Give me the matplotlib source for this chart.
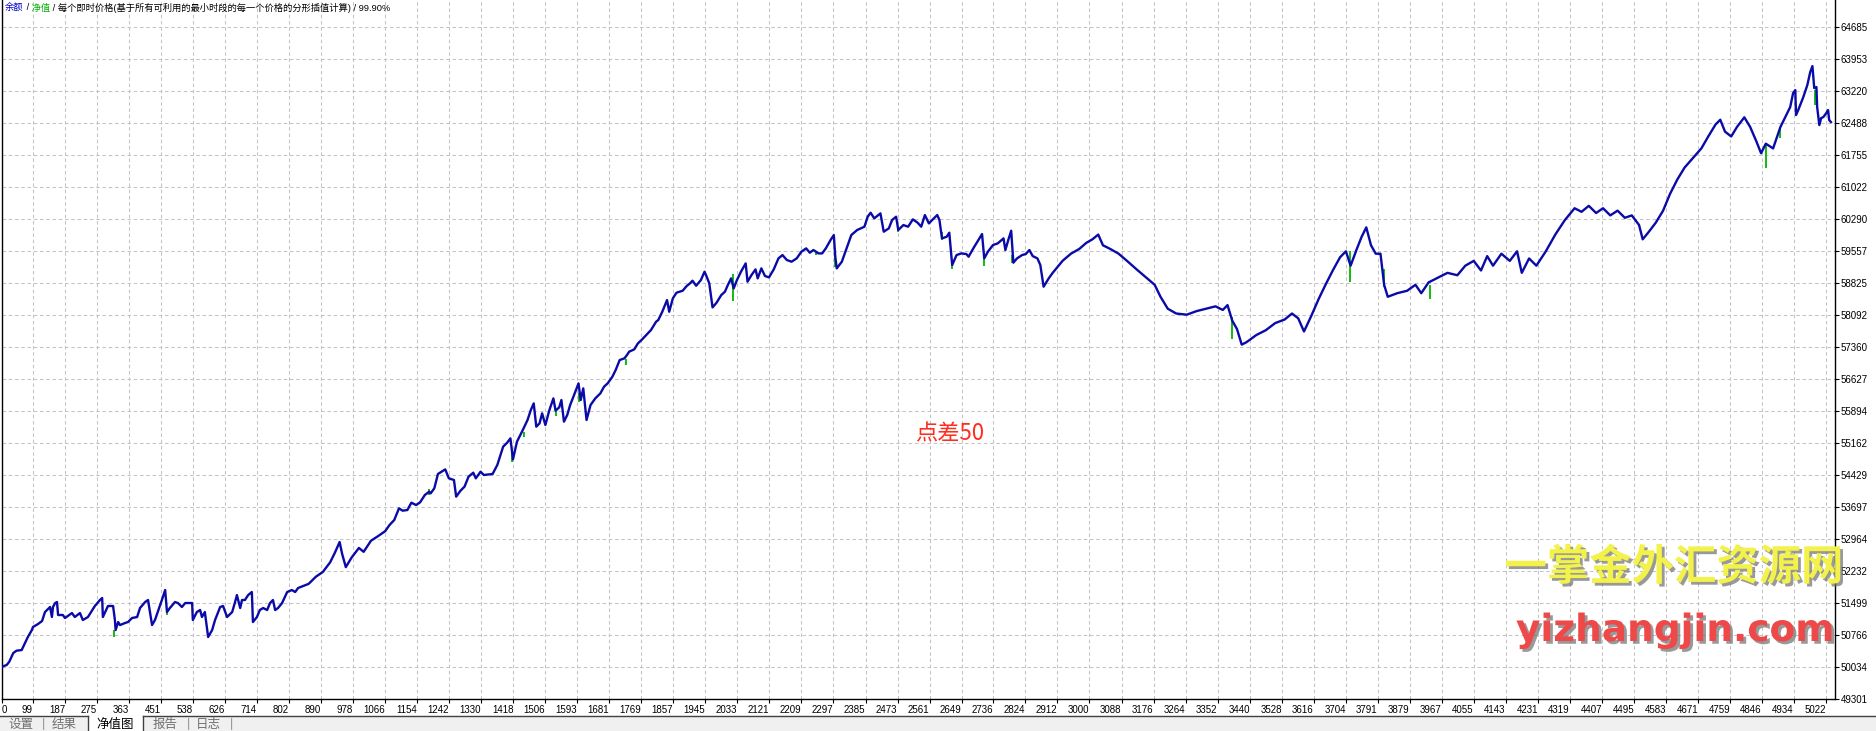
import matplotlib
matplotlib.use('Agg')
import matplotlib.pyplot as plt
import matplotlib.patheffects as pe
from matplotlib.patches import Rectangle
from matplotlib.lines import Line2D

plt.rcParams['font.family'] = ['Liberation Sans', 'Noto Sans CJK SC', 'DejaVu Sans']

# balance curve (bar number, balance)
bar_index = [
    14, 27, 34, 45, 54, 68, 72, 85, 96, 99, 113, 124, 132, 146, 151, 154, 160, 165, 168, 181,
    187, 206, 214, 228, 236, 250, 269, 283, 289, 291, 300, 305, 319, 324, 326, 333, 338, 352, 360, 371,
    385, 393, 407, 415, 426, 434, 453, 462, 467, 475, 489, 497, 508, 517, 536, 538, 549, 558, 563, 571,
    580, 591, 599, 613, 621, 632, 646, 654, 659, 668, 673, 681, 690, 700, 703, 714, 722, 731, 742, 750,
    758, 764, 772, 783, 797, 810, 819, 827, 856, 876, 895, 915, 928, 941, 948, 958, 974, 994, 1007, 1027,
    1047, 1066, 1078, 1091, 1104, 1114, 1127, 1138, 1151, 1162, 1175, 1187, 1191, 1201, 1211, 1231, 1241, 1255, 1261, 1273,
    1284, 1295, 1308, 1315, 1328, 1337, 1361, 1374, 1390, 1401, 1410, 1417, 1428, 1444, 1457, 1466, 1474, 1481, 1490, 1497,
    1506, 1517, 1528, 1534, 1544, 1550, 1557, 1566, 1574, 1583, 1597, 1603, 1610, 1619, 1630, 1643, 1657, 1667, 1677, 1690,
    1699, 1710, 1723, 1730, 1736, 1750, 1760, 1770, 1783, 1796, 1810, 1816, 1827, 1840, 1846, 1856, 1866, 1883, 1894, 1903,
    1910, 1920, 1933, 1943, 1949, 1956, 1965, 1976, 1989, 1999, 2007, 2016, 2023, 2032, 2043, 2056, 2061, 2072, 2083, 2089,
    2099, 2109, 2120, 2133, 2146, 2157, 2169, 2182, 2196, 2209, 2222, 2232, 2242, 2256, 2266, 2276, 2289, 2298, 2302, 2306,
    2320, 2333, 2346, 2362, 2382, 2391, 2399, 2409, 2426, 2435, 2449, 2458, 2469, 2475, 2489, 2502, 2515, 2528, 2538, 2548,
    2559, 2568, 2582, 2588, 2595, 2608, 2615, 2623, 2635, 2648, 2662, 2668, 2681, 2695, 2705, 2711, 2721, 2735, 2748, 2759,
    2764, 2769, 2777, 2785, 2791, 2801, 2815, 2825, 2835, 2844, 2857, 2865, 2874, 2888, 2899, 2926, 2949, 2972, 2991, 3008,
    3024, 3037, 3057, 3080, 3103, 3129, 3156, 3179, 3195, 3215, 3238, 3267, 3294, 3320, 3346, 3366, 3379, 3392, 3405, 3418,
    3431, 3458, 3484, 3510, 3536, 3556, 3573, 3589, 3609, 3629, 3648, 3668, 3688, 3704, 3717, 3734, 3747, 3760, 3773, 3786,
    3799, 3809, 3819, 3845, 3872, 3895, 3911, 3931, 3957, 3983, 4010, 4032, 4055, 4075, 4092, 4108, 4131, 4154, 4174, 4187,
    4207, 4227, 4253, 4279, 4305, 4332, 4351, 4371, 4391, 4410, 4430, 4450, 4470, 4489, 4509, 4519, 4535, 4555, 4575, 4594,
    4614, 4634, 4657, 4680, 4699, 4719, 4732, 4745, 4762, 4778, 4798, 4814, 4831, 4844, 4857, 4877, 4897, 4916, 4924, 4932,
    4938, 4940, 4946, 4960, 4971, 4979, 4985, 4990, 4996, 4998, 5004, 5009, 5015, 5023, 5028, 5031, 5036,
]
balance = [
    50040, 50080, 50155, 50354, 50407, 50422, 50491, 50720, 50880, 50949, 51018, 51086, 51292, 51407, 51178, 51407, 51498, 51521, 51224, 51224,
    51155, 51269, 51178, 51269, 51109, 51178, 51430, 51567, 51613, 51178, 51338, 51430, 51430, 51109, 50880, 51063, 50994, 51041, 51063, 51155,
    51178, 51384, 51521, 51567, 50994, 51109, 51567, 51796, 51292, 51384, 51521, 51498, 51407, 51498, 51498, 51109, 51292, 51338, 51178, 51292,
    50720, 50880, 51109, 51407, 51430, 51178, 51292, 51521, 51681, 51384, 51567, 51567, 51681, 51750, 51063, 51178, 51338, 51384, 51338, 51498,
    51567, 51338, 51384, 51498, 51750, 51796, 51750, 51842, 51937, 52101, 52210, 52430, 52649, 52895, 52621, 52320, 52540, 52759, 52670, 52923,
    53032, 53142, 53284, 53398, 53666, 53612, 53627, 53795, 53742, 53803, 53971, 54047, 54009, 54124, 54452, 54558, 54353, 54314, 53933, 54070,
    54162, 54391, 54482, 54353, 54505, 54429, 54452, 54658, 55077, 55169, 55268, 54787, 55192, 55459, 55688, 55916, 56069, 55535, 55611, 55840,
    55573, 55916, 56183, 55901, 55978, 56145, 55650, 55802, 56031, 56222, 56527, 56145, 56412, 55688, 56031, 56183, 56298, 56450, 56527, 56680,
    56832, 57061, 57099, 57175, 57252, 57305, 57442, 57519, 57633, 57748, 57938, 57977, 58167, 58434, 58167, 58473, 58602, 58648, 58755, 58816,
    58877, 58762, 58892, 59083, 58968, 58816, 58266, 58373, 58549, 58625, 58778, 58930, 58701, 58892, 59083, 59273, 58854, 59007, 59136, 58930,
    59159, 58984, 58953, 59136, 59388, 59464, 59350, 59312, 59388, 59541, 59617, 59518, 59579, 59502, 59502, 59617, 59808, 59922, 59426, 59159,
    59312, 59617, 59922, 60037, 60113, 60342, 60433, 60304, 60418, 59999, 60075, 60266, 60342, 60037, 60151, 60113, 60281, 60205, 60113, 60380,
    60189, 60266, 60380, 60266, 59846, 59884, 59976, 59236, 59464, 59502, 59487, 59426, 59617, 59808, 59945, 59388, 59541, 59693, 59731, 59808,
    59846, 59579, 59808, 60021, 59289, 59388, 59464, 59487, 59579, 59441, 59388, 59236, 58740, 58930, 59057, 59331, 59495, 59604, 59742, 59824,
    59933, 59687, 59604, 59495, 59331, 59139, 58947, 58783, 58509, 58235, 58126, 58099, 58181, 58236, 58290, 58208, 58318, 57962, 57770, 57414,
    57469, 57633, 57743, 57907, 57989, 58126, 58017, 57715, 58071, 58454, 58783, 59111, 59413, 59550, 59221, 59604, 59878, 60098, 59687, 59495,
    59495, 58783, 58509, 58591, 58646, 58783, 58591, 58838, 58947, 59057, 59002, 59221, 59331, 59111, 59440, 59221, 59495, 59331, 59550, 59057,
    59386, 59221, 59550, 59933, 60262, 60536, 60454, 60591, 60426, 60536, 60372, 60481, 60317, 60372, 60152, 59824, 59988, 60207, 60481, 60864,
    61193, 61467, 61686, 61905, 62179, 62453, 62562, 62289, 62179, 62398, 62617, 62398, 62069, 61795, 62014, 61905, 62394, 62714, 62852, 63172,
    63241, 62669, 62783, 63081, 63355, 63653, 63790, 63287, 63310, 62852, 62440, 62600, 62623, 62714, 62783, 62554, 62508,
]

# equity dips below balance (green)
spike_bar = [322, 467, 1187, 1414, 1446, 1534, 1599, 1726, 2020, 2249, 2302, 2473, 2595, 2623, 2711, 2788,
             3392, 3714, 3809, 3934, 4857, 4897, 4993]
spike_hi = [50880, 51338, 54101, 55001, 55421, 55901, 56298, 57076, 59029, 59541, 59464, 60113, 59999, 59350, 59411, 59464,
            58044, 59550, 59139, 58783, 62014, 62371, 63241]
spike_lo = [50720, 51224, 53971, 54734, 55306, 55779, 56107, 56946, 58419, 59464, 59182, 59999, 59808, 59136, 59220, 59274,
            57551, 58838, 58728, 58454, 61467, 62142, 62898]

x_ticks = [0, 99, 187, 275, 363, 451, 538, 626, 714, 802, 890, 978, 1066, 1154, 1242, 1330, 1418, 1506, 1593,
           1681, 1769, 1857, 1945, 2033, 2121, 2209, 2297, 2385, 2473, 2561, 2649, 2736, 2824, 2912, 3000, 3088,
           3176, 3264, 3352, 3440, 3528, 3616, 3704, 3791, 3879, 3967, 4055, 4143, 4231, 4319, 4407, 4495, 4583,
           4671, 4759, 4846, 4934, 5022]
y_ticks = [49301, 50034, 50766, 51499, 52232, 52964, 53697, 54429, 55162, 55894, 56627, 57360, 58092, 58825,
           59557, 60290, 61022, 61755, 62488, 63220, 63953, 64685]
x_range = (14, 5047)
y_range = (49301, 65303)

tab_labels = ['设置', '结果', '净值图', '报告', '日志']

W, H = 1876, 731
fig = plt.figure(figsize=(W / 100, H / 100), dpi=100)
ax = fig.add_axes([2 / W, 32 / H, 1833 / W, 699 / H])

ax.vlines(spike_bar, spike_lo, spike_hi, color='#00b400', lw=1.3, zorder=2)
ax.plot(bar_index, balance, color='#0a0aa8', lw=1.7, zorder=3)

ax.set_xlim(*x_range)
ax.set_ylim(*y_range)
ax.set_xticks([max(v, x_range[0]) for v in x_ticks])
ax.set_xticklabels([str(v) for v in x_ticks])
ax.set_yticks(y_ticks)
ax.set_yticklabels([str(v) for v in y_ticks])
ax.yaxis.tick_right()
ax.tick_params(axis='both', direction='out', length=3, width=0.8, labelsize=7, colors='black', pad=1)
for lbl in ax.get_xticklabels():
    lbl.set_ha('right')
ax.get_xticklabels()[0].set_ha('left')

ax.grid(True, color='#c4c4c4', linestyle=(0, (3.4, 2.6)), linewidth=0.75)
ax.spines['top'].set_visible(False)
for s in ['left', 'right', 'bottom']:
    ax.spines[s].set_linewidth(1.0)
    ax.spines[s].set_color('black')

# header line: balance / equity / model
prev = ax.annotate('余额', xy=(5, H - 8), xycoords='figure pixels', va='center', ha='left',
                   fontsize=6.7, color='#0000c8')
for txt, col in [(' /', 'black'), (' 净值', '#00b000'),
                 (' / 每个即时价格(基于所有可利用的最小时段的每一个价格的分形插值计算) / 99.90%', 'black')]:
    prev = ax.annotate(txt, xy=(1, 0.5), xycoords=prev, va='center', ha='left', fontsize=6.7, color=col)

fig.text(950 / W, 1 - 434 / H, '点差50', color='#ff2d1e', fontsize=16, ha='center', va='center',
         family=['Noto Sans CJK SC'])

shadow = [pe.withSimplePatchShadow(offset=(2, -2), shadow_rgbFace='#6e6e6e', alpha=0.7)]
fig.text(1674 / W, 1 - 568 / H, '一掌金外汇资源网', color='#f2f24a', fontsize=30.5, fontweight='bold',
         ha='center', va='center', family=['Noto Sans CJK SC'], path_effects=shadow)
fig.text(1675 / W, 1 - 641 / H, 'yizhangjin.com', color='#ee4848', fontsize=27, fontweight='bold',
         ha='center', va='baseline', family=['DejaVu Sans'], path_effects=shadow)

# bottom tab strip
fig.patches.append(Rectangle((0, 0), 1, 15 / H, transform=fig.transFigure, color='#f0f0f0', zorder=0))
fig.patches.append(Rectangle((88 / W, 0), 55 / W, 15 / H, transform=fig.transFigure, color='white', zorder=1))
for xs, ys in [([0, 88 / W], [15 / H, 15 / H]), ([143 / W, 1], [15 / H, 15 / H]),
               ([88 / W, 88 / W], [0, 15 / H]), ([143 / W, 143 / W], [0, 15 / H])]:
    fig.lines.append(Line2D(xs, ys, transform=fig.transFigure, color='#404040', lw=1))
tab_x = [21, 64, 115, 165, 208]
for lab, tx in zip(tab_labels, tab_x):
    fig.text(tx / W, 1 - 718 / H, lab, ha='center', va='top', fontsize=9,
             color='black' if lab == '净值图' else '#707070', family=['Noto Sans CJK SC'])
for sx in [43, 188, 231]:
    fig.text(sx / W, 1 - 718 / H, '|', ha='center', va='top', fontsize=9, color='#909090')

fig.savefig('out.png', dpi=100)
